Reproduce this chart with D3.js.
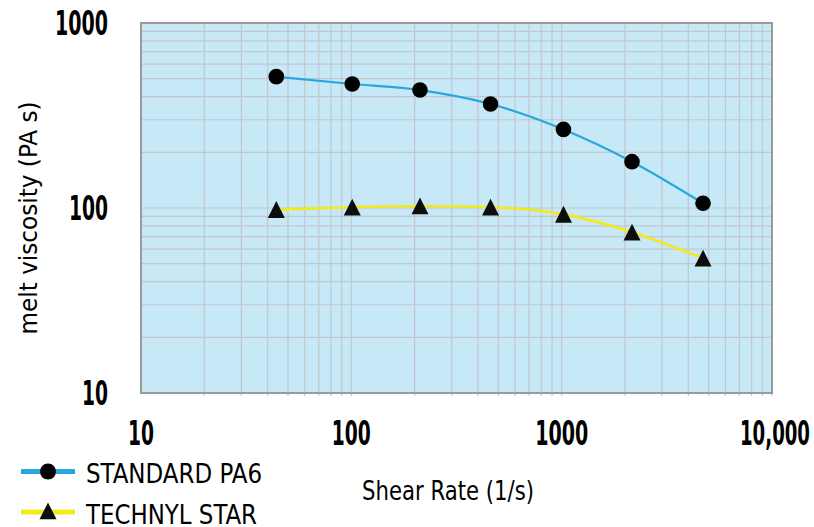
<!DOCTYPE html>
<html><head><meta charset="utf-8">
<script src="https://cdn.jsdelivr.net/npm/d3@7"></script>
<style>
html,body{margin:0;padding:0;background:#fff;}
svg{display:block;}
</style></head>
<body>
<svg id="chart" width="814" height="527"></svg>
<script>
const shearRate = [44, 101, 212, 459, 1020, 2160, 4700];
const standardPA6 = [513, 468, 434, 365, 266, 178, 106];
const technylStar = [98, 101, 102.5, 101, 92.4, 74, 53.5];
const xTickLabels = ["10", "100", "1000", "10,000"];
const xTickValues = [10, 100, 1000, 10000];
const yTickLabels = ["10", "100", "1000"];
const yTickValues = [10, 100, 1000];
const seriesNames = ["STANDARD PA6", "TECHNYL STAR"];

const svg = d3.select("#chart");
const L = 141, R = 772, T = 23, B = 393;
const x = d3.scaleLog().domain([10, 10000]).range([L, R]);
const y = d3.scaleLog().domain([10, 1000]).range([B, T]);

const tickFont = "'Liberation Sans Narrow','DejaVu Sans Condensed',sans-serif";

// background
svg.append("rect").attr("x", L).attr("y", T).attr("width", R - L).attr("height", B - T)
  .attr("fill", "#c6e8f7");

// grid
const xGrid = [];
for (let d = 10; d < 10000; d *= 10) for (let k = 2; k <= 10; k++) xGrid.push(d * k);
const yGrid = [];
for (let d = 10; d < 1000; d *= 10) for (let k = 2; k <= 10; k++) yGrid.push(d * k);

svg.append("g").selectAll("line").data(xGrid).join("line")
  .attr("x1", d => x(d)).attr("x2", d => x(d))
  .attr("y1", T).attr("y2", B + 3)
  .attr("stroke", "#c3c7cd").attr("stroke-width", 1.2);
svg.append("g").selectAll("line").data(yGrid).join("line")
  .attr("x1", L).attr("x2", R)
  .attr("y1", d => y(d)).attr("y2", d => y(d))
  .attr("stroke", "#c3c7cd").attr("stroke-width", 1.2);

// frame
svg.append("rect").attr("x", L).attr("y", T).attr("width", R - L).attr("height", B - T)
  .attr("fill", "none").attr("stroke", "#9a9a9a").attr("stroke-width", 2);

// lines
const line = d3.line().x(d => x(d[0])).y(d => y(d[1])).curve(d3.curveMonotoneX);
const stdData = shearRate.map((s, i) => [s, standardPA6[i]]);
const tecData = shearRate.map((s, i) => [s, technylStar[i]]);

svg.append("path").datum(stdData).attr("d", line)
  .attr("fill", "none").attr("stroke", "#27a7df").attr("stroke-width", 2.2);
svg.append("path").datum(tecData).attr("d", line)
  .attr("fill", "none").attr("stroke", "#f4e91c").attr("stroke-width", 2.6);

// markers
svg.append("g").selectAll("circle").data(stdData).join("circle")
  .attr("cx", d => x(d[0])).attr("cy", d => y(d[1])).attr("r", 7.8).attr("fill", "#000");
const tri = "M0,-8.5L8.5,8.3L-8.5,8.3Z";
svg.append("g").selectAll("path").data(tecData).join("path")
  .attr("d", tri).attr("transform", d => `translate(${x(d[0])},${y(d[1])})`)
  .attr("fill", "#0d0d0d");

// tick labels
const xw = {"10": 26, "100": 39, "1000": 53, "10,000": 70};
svg.append("g").selectAll("text").data(xTickValues).join("text")
  .attr("x", d => x(d) + (d === 10000 ? 3 : 0)).attr("y", 445)
  .attr("text-anchor", "middle")
  .attr("font-family", tickFont).attr("font-weight", "bold").attr("font-size", 34)
  .attr("textLength", (d, i) => xw[xTickLabels[i]]).attr("lengthAdjust", "spacingAndGlyphs")
  .text((d, i) => xTickLabels[i]);

svg.append("g").selectAll("text").data(yTickValues).join("text")
  .attr("x", (d, i) => 108 - xw[yTickLabels[i]] / 2).attr("y", d => y(d) + 12)
  .attr("text-anchor", "middle")
  .attr("font-family", tickFont).attr("font-weight", "bold").attr("font-size", 34)
  .attr("textLength", (d, i) => xw[yTickLabels[i]]).attr("lengthAdjust", "spacingAndGlyphs")
  .text((d, i) => yTickLabels[i]);

// axis titles
svg.append("text").attr("transform", "translate(37,218) rotate(-90)")
  .attr("text-anchor", "middle")
  .attr("font-family", tickFont).attr("font-size", 25)
  .attr("textLength", 233).attr("lengthAdjust", "spacingAndGlyphs")
  .text("melt viscosity (PA s)");
svg.append("text").attr("x", 448).attr("y", 500)
  .attr("text-anchor", "middle")
  .attr("font-family", tickFont).attr("font-size", 27)
  .attr("textLength", 172).attr("lengthAdjust", "spacingAndGlyphs")
  .text("Shear Rate (1/s)");

// legend
const lg = svg.append("g");
lg.append("line").attr("x1", 21).attr("x2", 75).attr("y1", 471.5).attr("y2", 471.5)
  .attr("stroke", "#27a7df").attr("stroke-width", 5);
lg.append("circle").attr("cx", 48).attr("cy", 471.5).attr("r", 8).attr("fill", "#000");
lg.append("text").attr("x", 86).attr("y", 483)
  .attr("font-family", tickFont).attr("font-size", 26)
  .attr("textLength", 176).attr("lengthAdjust", "spacingAndGlyphs")
  .text(seriesNames[0]);
lg.append("line").attr("x1", 21).attr("x2", 75).attr("y1", 512).attr("y2", 512)
  .attr("stroke", "#f4e91c").attr("stroke-width", 5);
lg.append("path").attr("d", tri).attr("transform", "translate(48,511)").attr("fill", "#0d0d0d");
lg.append("text").attr("x", 86).attr("y", 524)
  .attr("font-family", tickFont).attr("font-size", 26)
  .attr("textLength", 171).attr("lengthAdjust", "spacingAndGlyphs")
  .text(seriesNames[1]);
</script>
</body></html>
